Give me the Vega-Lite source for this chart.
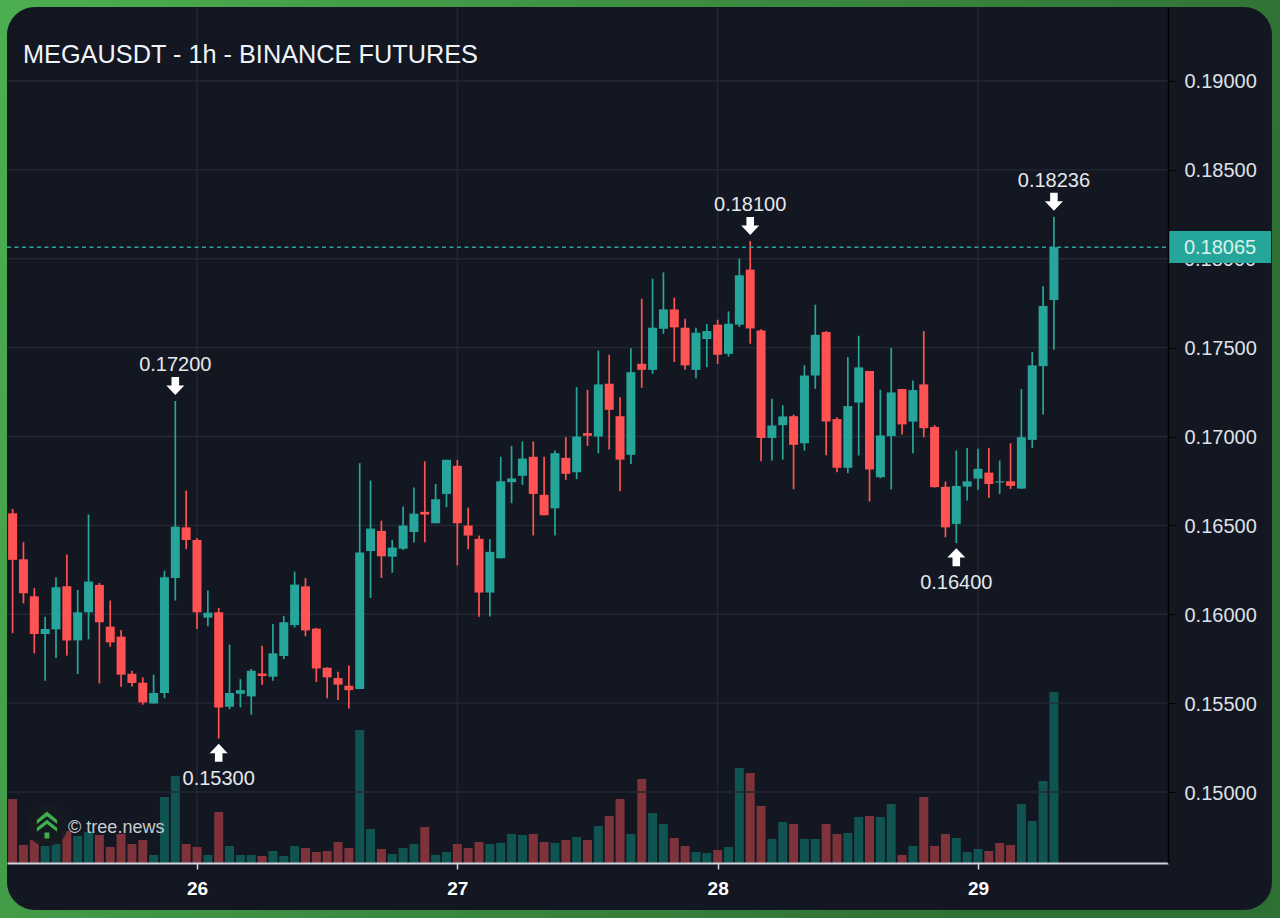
{
  "$schema": "https://vega.github.io/schema/vega-lite/v6.json",
  "width": 1265,
  "height": 903,
  "autosize": {"type": "none"},
  "padding": {"left": 7, "top": 7, "right": 8, "bottom": 8},
  "background": "#3d8f42",
  "view": {"fill": null, "stroke": null},
  "config": {"font": "Liberation Sans"},
  "title": {"text": "MEGAUSDT - 1h - BINANCE FUTURES", "anchor": "start", "frame": "group", "dx": 16, "baseline": "top", "offset": -68, "fontSize": 25.3, "fontWeight": "normal", "color": "#f0f3fa"},
  "datasets": {
    "candles": [
      {"t":"2025-10-25T07:00:00Z","o":0.16568,"h":0.16593,"l":0.15893,"c":0.16306,"dir":"down"},
      {"t":"2025-10-25T08:00:00Z","o":0.16309,"h":0.16405,"l":0.16061,"c":0.16118,"dir":"down"},
      {"t":"2025-10-25T09:00:00Z","o":0.16101,"h":0.16148,"l":0.15780,"c":0.15889,"dir":"down"},
      {"t":"2025-10-25T10:00:00Z","o":0.15889,"h":0.15986,"l":0.15626,"c":0.15917,"dir":"up"},
      {"t":"2025-10-25T11:00:00Z","o":0.15915,"h":0.16208,"l":0.15754,"c":0.16152,"dir":"up"},
      {"t":"2025-10-25T12:00:00Z","o":0.16157,"h":0.16336,"l":0.15767,"c":0.15853,"dir":"down"},
      {"t":"2025-10-25T13:00:00Z","o":0.15853,"h":0.16137,"l":0.15664,"c":0.16011,"dir":"up"},
      {"t":"2025-10-25T14:00:00Z","o":0.16011,"h":0.16561,"l":0.15859,"c":0.16184,"dir":"up"},
      {"t":"2025-10-25T15:00:00Z","o":0.16165,"h":0.16176,"l":0.15611,"c":0.15955,"dir":"down"},
      {"t":"2025-10-25T16:00:00Z","o":0.15930,"h":0.16077,"l":0.15817,"c":0.15842,"dir":"down"},
      {"t":"2025-10-25T17:00:00Z","o":0.15874,"h":0.15911,"l":0.15592,"c":0.15660,"dir":"down"},
      {"t":"2025-10-25T18:00:00Z","o":0.15665,"h":0.15682,"l":0.15594,"c":0.15613,"dir":"down"},
      {"t":"2025-10-25T19:00:00Z","o":0.15615,"h":0.15645,"l":0.15491,"c":0.15504,"dir":"down"},
      {"t":"2025-10-25T20:00:00Z","o":0.15498,"h":0.15660,"l":0.15498,"c":0.15557,"dir":"up"},
      {"t":"2025-10-25T21:00:00Z","o":0.15557,"h":0.16245,"l":0.15527,"c":0.16208,"dir":"up"},
      {"t":"2025-10-25T22:00:00Z","o":0.16204,"h":0.17200,"l":0.16077,"c":0.16493,"dir":"up"},
      {"t":"2025-10-25T23:00:00Z","o":0.16489,"h":0.16696,"l":0.16366,"c":0.16418,"dir":"down"},
      {"t":"2025-10-26T00:00:00Z","o":0.16418,"h":0.16429,"l":0.15917,"c":0.16011,"dir":"down"},
      {"t":"2025-10-26T01:00:00Z","o":0.15981,"h":0.16133,"l":0.15932,"c":0.16009,"dir":"up"},
      {"t":"2025-10-26T02:00:00Z","o":0.16011,"h":0.16035,"l":0.15300,"c":0.15476,"dir":"down"},
      {"t":"2025-10-26T03:00:00Z","o":0.15480,"h":0.15829,"l":0.15466,"c":0.15557,"dir":"up"},
      {"t":"2025-10-26T04:00:00Z","o":0.15553,"h":0.15635,"l":0.15476,"c":0.15573,"dir":"up"},
      {"t":"2025-10-26T05:00:00Z","o":0.15538,"h":0.15692,"l":0.15435,"c":0.15682,"dir":"up"},
      {"t":"2025-10-26T06:00:00Z","o":0.15667,"h":0.15823,"l":0.15604,"c":0.15652,"dir":"down"},
      {"t":"2025-10-26T07:00:00Z","o":0.15649,"h":0.15945,"l":0.15626,"c":0.15780,"dir":"up"},
      {"t":"2025-10-26T08:00:00Z","o":0.15765,"h":0.15990,"l":0.15748,"c":0.15955,"dir":"up"},
      {"t":"2025-10-26T09:00:00Z","o":0.15939,"h":0.16240,"l":0.15926,"c":0.16167,"dir":"up"},
      {"t":"2025-10-26T10:00:00Z","o":0.16157,"h":0.16204,"l":0.15876,"c":0.15909,"dir":"down"},
      {"t":"2025-10-26T11:00:00Z","o":0.15919,"h":0.15923,"l":0.15619,"c":0.15695,"dir":"down"},
      {"t":"2025-10-26T12:00:00Z","o":0.15699,"h":0.15701,"l":0.15527,"c":0.15645,"dir":"down"},
      {"t":"2025-10-26T13:00:00Z","o":0.15641,"h":0.15677,"l":0.15517,"c":0.15604,"dir":"down"},
      {"t":"2025-10-26T14:00:00Z","o":0.15598,"h":0.15711,"l":0.15470,"c":0.15573,"dir":"down"},
      {"t":"2025-10-26T15:00:00Z","o":0.15579,"h":0.16850,"l":0.15579,"c":0.16347,"dir":"up"},
      {"t":"2025-10-26T16:00:00Z","o":0.16356,"h":0.16752,"l":0.16092,"c":0.16482,"dir":"up"},
      {"t":"2025-10-26T17:00:00Z","o":0.16469,"h":0.16527,"l":0.16204,"c":0.16326,"dir":"down"},
      {"t":"2025-10-26T18:00:00Z","o":0.16324,"h":0.16418,"l":0.16234,"c":0.16375,"dir":"up"},
      {"t":"2025-10-26T19:00:00Z","o":0.16369,"h":0.16606,"l":0.16362,"c":0.16499,"dir":"up"},
      {"t":"2025-10-26T20:00:00Z","o":0.16463,"h":0.16713,"l":0.16403,"c":0.16566,"dir":"up"},
      {"t":"2025-10-26T21:00:00Z","o":0.16576,"h":0.16861,"l":0.16405,"c":0.16561,"dir":"down"},
      {"t":"2025-10-26T22:00:00Z","o":0.16512,"h":0.16733,"l":0.16512,"c":0.16647,"dir":"up"},
      {"t":"2025-10-26T23:00:00Z","o":0.16677,"h":0.16869,"l":0.16602,"c":0.16869,"dir":"up"},
      {"t":"2025-10-27T00:00:00Z","o":0.16835,"h":0.16869,"l":0.16274,"c":0.16512,"dir":"down"},
      {"t":"2025-10-27T01:00:00Z","o":0.16499,"h":0.16600,"l":0.16366,"c":0.16443,"dir":"down"},
      {"t":"2025-10-27T02:00:00Z","o":0.16424,"h":0.16443,"l":0.15986,"c":0.16122,"dir":"down"},
      {"t":"2025-10-27T03:00:00Z","o":0.16122,"h":0.16422,"l":0.15988,"c":0.16351,"dir":"up"},
      {"t":"2025-10-27T04:00:00Z","o":0.16315,"h":0.16886,"l":0.16315,"c":0.16748,"dir":"up"},
      {"t":"2025-10-27T05:00:00Z","o":0.16743,"h":0.16947,"l":0.16625,"c":0.16764,"dir":"up"},
      {"t":"2025-10-27T06:00:00Z","o":0.16779,"h":0.16972,"l":0.16728,"c":0.16876,"dir":"up"},
      {"t":"2025-10-27T07:00:00Z","o":0.16886,"h":0.16972,"l":0.16443,"c":0.16677,"dir":"down"},
      {"t":"2025-10-27T08:00:00Z","o":0.16672,"h":0.16886,"l":0.16557,"c":0.16557,"dir":"down"},
      {"t":"2025-10-27T09:00:00Z","o":0.16596,"h":0.16921,"l":0.16443,"c":0.16906,"dir":"up"},
      {"t":"2025-10-27T10:00:00Z","o":0.16880,"h":0.16996,"l":0.16756,"c":0.16790,"dir":"down"},
      {"t":"2025-10-27T11:00:00Z","o":0.16799,"h":0.17278,"l":0.16760,"c":0.17000,"dir":"up"},
      {"t":"2025-10-27T12:00:00Z","o":0.17019,"h":0.17263,"l":0.16947,"c":0.17004,"dir":"down"},
      {"t":"2025-10-27T13:00:00Z","o":0.17000,"h":0.17484,"l":0.16906,"c":0.17293,"dir":"up"},
      {"t":"2025-10-27T14:00:00Z","o":0.17297,"h":0.17460,"l":0.16927,"c":0.17150,"dir":"down"},
      {"t":"2025-10-27T15:00:00Z","o":0.17114,"h":0.17221,"l":0.16692,"c":0.16870,"dir":"down"},
      {"t":"2025-10-27T16:00:00Z","o":0.16897,"h":0.17496,"l":0.16846,"c":0.17362,"dir":"up"},
      {"t":"2025-10-27T17:00:00Z","o":0.17409,"h":0.17775,"l":0.17274,"c":0.17375,"dir":"down"},
      {"t":"2025-10-27T18:00:00Z","o":0.17375,"h":0.17888,"l":0.17353,"c":0.17612,"dir":"up"},
      {"t":"2025-10-27T19:00:00Z","o":0.17606,"h":0.17923,"l":0.17578,"c":0.17715,"dir":"up"},
      {"t":"2025-10-27T20:00:00Z","o":0.17715,"h":0.17781,"l":0.17419,"c":0.17614,"dir":"down"},
      {"t":"2025-10-27T21:00:00Z","o":0.17612,"h":0.17663,"l":0.17375,"c":0.17400,"dir":"down"},
      {"t":"2025-10-27T22:00:00Z","o":0.17375,"h":0.17612,"l":0.17328,"c":0.17584,"dir":"up"},
      {"t":"2025-10-27T23:00:00Z","o":0.17548,"h":0.17634,"l":0.17390,"c":0.17593,"dir":"up"},
      {"t":"2025-10-28T00:00:00Z","o":0.17629,"h":0.17657,"l":0.17409,"c":0.17460,"dir":"down"},
      {"t":"2025-10-28T01:00:00Z","o":0.17465,"h":0.17704,"l":0.17450,"c":0.17634,"dir":"up"},
      {"t":"2025-10-28T02:00:00Z","o":0.17629,"h":0.18000,"l":0.17616,"c":0.17907,"dir":"up"},
      {"t":"2025-10-28T03:00:00Z","o":0.17939,"h":0.18100,"l":0.17522,"c":0.17608,"dir":"down"},
      {"t":"2025-10-28T04:00:00Z","o":0.17597,"h":0.17604,"l":0.16861,"c":0.16992,"dir":"down"},
      {"t":"2025-10-28T05:00:00Z","o":0.16992,"h":0.17212,"l":0.16865,"c":0.17062,"dir":"up"},
      {"t":"2025-10-28T06:00:00Z","o":0.17064,"h":0.17175,"l":0.16870,"c":0.17113,"dir":"up"},
      {"t":"2025-10-28T07:00:00Z","o":0.17114,"h":0.17124,"l":0.16703,"c":0.16953,"dir":"down"},
      {"t":"2025-10-28T08:00:00Z","o":0.16962,"h":0.17400,"l":0.16921,"c":0.17343,"dir":"up"},
      {"t":"2025-10-28T09:00:00Z","o":0.17343,"h":0.17741,"l":0.17268,"c":0.17572,"dir":"up"},
      {"t":"2025-10-28T10:00:00Z","o":0.17588,"h":0.17593,"l":0.16895,"c":0.17084,"dir":"down"},
      {"t":"2025-10-28T11:00:00Z","o":0.17098,"h":0.17109,"l":0.16799,"c":0.16824,"dir":"down"},
      {"t":"2025-10-28T12:00:00Z","o":0.16824,"h":0.17447,"l":0.16794,"c":0.17171,"dir":"up"},
      {"t":"2025-10-28T13:00:00Z","o":0.17191,"h":0.17567,"l":0.16893,"c":0.17389,"dir":"up"},
      {"t":"2025-10-28T14:00:00Z","o":0.17368,"h":0.17368,"l":0.16634,"c":0.16814,"dir":"down"},
      {"t":"2025-10-28T15:00:00Z","o":0.16771,"h":0.17263,"l":0.16765,"c":0.17006,"dir":"up"},
      {"t":"2025-10-28T16:00:00Z","o":0.17002,"h":0.17499,"l":0.16702,"c":0.17248,"dir":"up"},
      {"t":"2025-10-28T17:00:00Z","o":0.17267,"h":0.17267,"l":0.17011,"c":0.17068,"dir":"down"},
      {"t":"2025-10-28T18:00:00Z","o":0.17084,"h":0.17315,"l":0.16906,"c":0.17261,"dir":"up"},
      {"t":"2025-10-28T19:00:00Z","o":0.17293,"h":0.17593,"l":0.16996,"c":0.17047,"dir":"down"},
      {"t":"2025-10-28T20:00:00Z","o":0.17054,"h":0.17064,"l":0.16713,"c":0.16715,"dir":"down"},
      {"t":"2025-10-28T21:00:00Z","o":0.16717,"h":0.16747,"l":0.16433,"c":0.16489,"dir":"down"},
      {"t":"2025-10-28T22:00:00Z","o":0.16508,"h":0.16921,"l":0.16400,"c":0.16722,"dir":"up"},
      {"t":"2025-10-28T23:00:00Z","o":0.16718,"h":0.16936,"l":0.16640,"c":0.16748,"dir":"up"},
      {"t":"2025-10-29T00:00:00Z","o":0.16763,"h":0.16931,"l":0.16700,"c":0.16818,"dir":"up"},
      {"t":"2025-10-29T01:00:00Z","o":0.16797,"h":0.16936,"l":0.16655,"c":0.16733,"dir":"down"},
      {"t":"2025-10-29T02:00:00Z","o":0.16741,"h":0.16865,"l":0.16677,"c":0.16748,"dir":"up"},
      {"t":"2025-10-29T03:00:00Z","o":0.16748,"h":0.16962,"l":0.16705,"c":0.16722,"dir":"down"},
      {"t":"2025-10-29T04:00:00Z","o":0.16707,"h":0.17267,"l":0.16705,"c":0.16996,"dir":"up"},
      {"t":"2025-10-29T05:00:00Z","o":0.16981,"h":0.17475,"l":0.16936,"c":0.17400,"dir":"up"},
      {"t":"2025-10-29T06:00:00Z","o":0.17396,"h":0.17845,"l":0.17124,"c":0.17734,"dir":"up"},
      {"t":"2025-10-29T07:00:00Z","o":0.17768,"h":0.18236,"l":0.17488,"c":0.18065,"dir":"up"}
    ],
    "volume": [
      {"t":"2025-10-25T07:00:00Z","v":64,"dir":"down"},{"t":"2025-10-25T08:00:00Z","v":18,"dir":"down"},{"t":"2025-10-25T09:00:00Z","v":23,"dir":"down"},{"t":"2025-10-25T10:00:00Z","v":17,"dir":"up"},
      {"t":"2025-10-25T11:00:00Z","v":19,"dir":"up"},{"t":"2025-10-25T12:00:00Z","v":32,"dir":"down"},{"t":"2025-10-25T13:00:00Z","v":27,"dir":"up"},{"t":"2025-10-25T14:00:00Z","v":31,"dir":"up"},
      {"t":"2025-10-25T15:00:00Z","v":28,"dir":"down"},{"t":"2025-10-25T16:00:00Z","v":16,"dir":"down"},{"t":"2025-10-25T17:00:00Z","v":29,"dir":"down"},{"t":"2025-10-25T18:00:00Z","v":19,"dir":"down"},
      {"t":"2025-10-25T19:00:00Z","v":23,"dir":"down"},{"t":"2025-10-25T20:00:00Z","v":8,"dir":"up"},{"t":"2025-10-25T21:00:00Z","v":66,"dir":"up"},{"t":"2025-10-25T22:00:00Z","v":87,"dir":"up"},
      {"t":"2025-10-25T23:00:00Z","v":19,"dir":"down"},{"t":"2025-10-26T00:00:00Z","v":16,"dir":"down"},{"t":"2025-10-26T01:00:00Z","v":8,"dir":"up"},{"t":"2025-10-26T02:00:00Z","v":51,"dir":"down"},
      {"t":"2025-10-26T03:00:00Z","v":17,"dir":"up"},{"t":"2025-10-26T04:00:00Z","v":8,"dir":"up"},{"t":"2025-10-26T05:00:00Z","v":8,"dir":"up"},{"t":"2025-10-26T06:00:00Z","v":7,"dir":"down"},
      {"t":"2025-10-26T07:00:00Z","v":12,"dir":"up"},{"t":"2025-10-26T08:00:00Z","v":7,"dir":"up"},{"t":"2025-10-26T09:00:00Z","v":17,"dir":"up"},{"t":"2025-10-26T10:00:00Z","v":15,"dir":"down"},
      {"t":"2025-10-26T11:00:00Z","v":11,"dir":"down"},{"t":"2025-10-26T12:00:00Z","v":12,"dir":"down"},{"t":"2025-10-26T13:00:00Z","v":21,"dir":"down"},{"t":"2025-10-26T14:00:00Z","v":15,"dir":"down"},
      {"t":"2025-10-26T15:00:00Z","v":133,"dir":"up"},{"t":"2025-10-26T16:00:00Z","v":34,"dir":"up"},{"t":"2025-10-26T17:00:00Z","v":14,"dir":"down"},{"t":"2025-10-26T18:00:00Z","v":9,"dir":"up"},
      {"t":"2025-10-26T19:00:00Z","v":15,"dir":"up"},{"t":"2025-10-26T20:00:00Z","v":19,"dir":"up"},{"t":"2025-10-26T21:00:00Z","v":36,"dir":"down"},{"t":"2025-10-26T22:00:00Z","v":8,"dir":"up"},
      {"t":"2025-10-26T23:00:00Z","v":11,"dir":"up"},{"t":"2025-10-27T00:00:00Z","v":19,"dir":"down"},{"t":"2025-10-27T01:00:00Z","v":15,"dir":"down"},{"t":"2025-10-27T02:00:00Z","v":21,"dir":"down"},
      {"t":"2025-10-27T03:00:00Z","v":19,"dir":"up"},{"t":"2025-10-27T04:00:00Z","v":20,"dir":"up"},{"t":"2025-10-27T05:00:00Z","v":29,"dir":"up"},{"t":"2025-10-27T06:00:00Z","v":28,"dir":"up"},
      {"t":"2025-10-27T07:00:00Z","v":29,"dir":"down"},{"t":"2025-10-27T08:00:00Z","v":21,"dir":"down"},{"t":"2025-10-27T09:00:00Z","v":20,"dir":"up"},{"t":"2025-10-27T10:00:00Z","v":23,"dir":"down"},
      {"t":"2025-10-27T11:00:00Z","v":26,"dir":"up"},{"t":"2025-10-27T12:00:00Z","v":23,"dir":"down"},{"t":"2025-10-27T13:00:00Z","v":37,"dir":"up"},{"t":"2025-10-27T14:00:00Z","v":47,"dir":"down"},
      {"t":"2025-10-27T15:00:00Z","v":64,"dir":"down"},{"t":"2025-10-27T16:00:00Z","v":29,"dir":"up"},{"t":"2025-10-27T17:00:00Z","v":84,"dir":"down"},{"t":"2025-10-27T18:00:00Z","v":50,"dir":"up"},
      {"t":"2025-10-27T19:00:00Z","v":39,"dir":"up"},{"t":"2025-10-27T20:00:00Z","v":25,"dir":"down"},{"t":"2025-10-27T21:00:00Z","v":17,"dir":"down"},{"t":"2025-10-27T22:00:00Z","v":11,"dir":"up"},
      {"t":"2025-10-27T23:00:00Z","v":10,"dir":"up"},{"t":"2025-10-28T00:00:00Z","v":13,"dir":"down"},{"t":"2025-10-28T01:00:00Z","v":16,"dir":"up"},{"t":"2025-10-28T02:00:00Z","v":95,"dir":"up"},
      {"t":"2025-10-28T03:00:00Z","v":90,"dir":"down"},{"t":"2025-10-28T04:00:00Z","v":57,"dir":"down"},{"t":"2025-10-28T05:00:00Z","v":24,"dir":"up"},{"t":"2025-10-28T06:00:00Z","v":41,"dir":"up"},
      {"t":"2025-10-28T07:00:00Z","v":39,"dir":"down"},{"t":"2025-10-28T08:00:00Z","v":24,"dir":"up"},{"t":"2025-10-28T09:00:00Z","v":24,"dir":"up"},{"t":"2025-10-28T10:00:00Z","v":39,"dir":"down"},
      {"t":"2025-10-28T11:00:00Z","v":29,"dir":"down"},{"t":"2025-10-28T12:00:00Z","v":30,"dir":"up"},{"t":"2025-10-28T13:00:00Z","v":46,"dir":"up"},{"t":"2025-10-28T14:00:00Z","v":47,"dir":"down"},
      {"t":"2025-10-28T15:00:00Z","v":46,"dir":"up"},{"t":"2025-10-28T16:00:00Z","v":59,"dir":"up"},{"t":"2025-10-28T17:00:00Z","v":8,"dir":"down"},{"t":"2025-10-28T18:00:00Z","v":17,"dir":"up"},
      {"t":"2025-10-28T19:00:00Z","v":66,"dir":"down"},{"t":"2025-10-28T20:00:00Z","v":17,"dir":"down"},{"t":"2025-10-28T21:00:00Z","v":29,"dir":"down"},{"t":"2025-10-28T22:00:00Z","v":25,"dir":"up"},
      {"t":"2025-10-28T23:00:00Z","v":11,"dir":"up"},{"t":"2025-10-29T00:00:00Z","v":14,"dir":"up"},{"t":"2025-10-29T01:00:00Z","v":12,"dir":"down"},{"t":"2025-10-29T02:00:00Z","v":20,"dir":"down"},
      {"t":"2025-10-29T03:00:00Z","v":18,"dir":"down"},{"t":"2025-10-29T04:00:00Z","v":59,"dir":"up"},{"t":"2025-10-29T05:00:00Z","v":42,"dir":"up"},{"t":"2025-10-29T06:00:00Z","v":82,"dir":"up"},
      {"t":"2025-10-29T07:00:00Z","v":171,"dir":"up"}
    ]
  },
  "layer": [
    {
      "encoding": {
        "y": {"type": "quantitative", "title": null, "axis": null, "scale": {"domain": [0, 856], "range": [856, 0], "nice": false}}
      },
      "layer": [
        {
          "data": {"values": [{"part": "frame"}]},
          "mark": {"type": "rect", "color": {"gradient": "linear", "x1": 0, "y1": 0, "x2": 1, "y2": 0.3, "stops": [{"offset": 0, "color": "#4caf50"}, {"offset": 0.5, "color": "#3c8c41"}, {"offset": 1, "color": "#2e6f33"}]}},
          "encoding": {
            "x": {
              "datum": {"year": 2025, "month": 10, "date": 25, "hours": 5, "minutes": 50, "utc": true},
              "type": "temporal",
              "title": null,
              "scale": {
                "type": "utc",
                "nice": false,
                "padding": 0,
                "domain": [
                  {"year": 2025, "month": 10, "date": 25, "hours": 6, "minutes": 29, "utc": true},
                  {"year": 2025, "month": 10, "date": 29, "hours": 17, "minutes": 31, "utc": true}
                ],
                "range": [0, 1161]
              },
              "axis": {
                "orient": "bottom",
                "offset": -47,
                "title": null,
                "zindex": 1,
                "grid": false,
                "tickCount": {"interval": "day", "step": 1},
                "labelExpr": "utcFormat(datum.value, '%d')",
                "labelFontSize": 19,
                "labelFontWeight": "bold",
                "labelColor": "#ffffff",
                "labelPadding": 10,
                "labelFlush": false,
                "tickColor": "#d1d4dc",
                "tickSize": 6,
                "tickWidth": 1.5,
                "domainColor": "#d1d4dc",
                "domainWidth": 2
              }
            },
            "x2": {"datum": {"year": 2025, "month": 10, "date": 30, "hours": 3, "minutes": 50, "utc": true}},
            "y": {"datum": 863},
            "y2": {"datum": -55}
          }
        },
        {
          "data": {"values": [{"part": "panel"}]},
          "mark": {"type": "rect", "color": "#131722", "cornerRadius": 28},
          "encoding": {
            "x": {"datum": {"year": 2025, "month": 10, "date": 25, "hours": 6, "minutes": 29, "utc": true}, "type": "temporal"},
            "x2": {"datum": {"year": 2025, "month": 10, "date": 30, "hours": 3, "minutes": 6, "utc": true}},
            "y": {"datum": 856},
            "y2": {"datum": -47}
          }
        },
        {
          "data": {"values": [{"day": "2025-10-26T00:00:00Z"}, {"day": "2025-10-27T00:00:00Z"}, {"day": "2025-10-28T00:00:00Z"}, {"day": "2025-10-29T00:00:00Z"}]},
          "mark": {"type": "rule", "color": "#252934", "strokeWidth": 1.3},
          "encoding": {
            "x": {"field": "day", "type": "temporal"},
            "y": {"datum": 0},
            "y2": {"datum": 856}
          }
        },
        {
          "data": {"name": "volume"},
          "mark": {"type": "bar", "width": 9},
          "encoding": {
            "x": {"field": "t", "type": "temporal"},
            "y": {"field": "v"},
            "color": {"field": "dir", "type": "nominal", "legend": null, "scale": {"domain": ["up", "down"], "range": ["#0f5451", "#7e323a"]}}
          }
        }
      ]
    },
    {
      "encoding": {
        "y": {"type": "quantitative", "title": null, "scale": {"domain": [0.146006, 0.194163], "range": [856, 0], "nice": false, "zero": false}}
      },
      "layer": [
        {
          "data": {"values": [{"level": 0.15}, {"level": 0.155}, {"level": 0.16}, {"level": 0.165}, {"level": 0.17}, {"level": 0.175}, {"level": 0.18}, {"level": 0.185}, {"level": 0.19}]},
          "mark": {"type": "rule", "color": "#252934", "strokeWidth": 1.3},
          "encoding": {
            "x": {"datum": {"year": 2025, "month": 10, "date": 25, "hours": 6, "minutes": 29, "utc": true}, "type": "temporal"},
            "x2": {"datum": {"year": 2025, "month": 10, "date": 29, "hours": 17, "minutes": 31, "utc": true}},
            "y": {
              "field": "level",
              "axis": {
                "orient": "right",
                "offset": -104,
                "title": null,
                "zindex": 1,
                "values": [0.15, 0.155, 0.16, 0.165, 0.17, 0.175, 0.185, 0.19],
                "format": ".5f",
                "grid": false,
                "labelFontSize": 20,
                "labelColor": "#dfe1e6",
                "labelPadding": 9,
                "labelOffset": 1,
                "tickColor": "#000000",
                "tickSize": 7,
                "domainColor": "#000000",
                "domainWidth": 1.5
              }
            }
          }
        },
        {
          "data": {"name": "candles"},
          "mark": {"type": "rule", "strokeWidth": 1.7},
          "encoding": {
            "x": {"field": "t", "type": "temporal"},
            "y": {"field": "l"},
            "y2": {"field": "h"},
            "color": {"field": "dir", "type": "nominal", "legend": null, "scale": {"domain": ["up", "down"], "range": ["#26a69a", "#ff5252"]}}
          }
        },
        {
          "data": {"name": "candles"},
          "mark": {"type": "bar", "width": 9},
          "encoding": {
            "x": {"field": "t", "type": "temporal"},
            "y": {"field": "o"},
            "y2": {"field": "c"},
            "color": {"field": "dir", "type": "nominal", "legend": null}
          }
        },
        {
          "data": {"values": [{"price": 0.18}]},
          "mark": {"type": "text", "align": "left", "baseline": "middle", "fontSize": 20, "dy": 1, "color": "#dfe1e6"},
          "encoding": {
            "x": {"datum": {"year": 2025, "month": 10, "date": 29, "hours": 18, "minutes": 59, "utc": true}, "type": "temporal"},
            "y": {"field": "price"},
            "text": {"field": "price", "format": ".5f"}
          }
        },
        {
          "data": {"values": [{"price": 0.18065}]},
          "mark": {"type": "rule", "color": "#26a69a", "strokeWidth": 1.5, "strokeDash": [4, 3.5]},
          "encoding": {
            "x": {"datum": {"year": 2025, "month": 10, "date": 25, "hours": 6, "minutes": 29, "utc": true}, "type": "temporal"},
            "x2": {"datum": {"year": 2025, "month": 10, "date": 29, "hours": 18, "minutes": 10, "utc": true}},
            "y": {"field": "price"}
          }
        },
        {
          "data": {"values": [{"price": 0.18065}]},
          "mark": {"type": "rect", "color": "#26a69a"},
          "encoding": {
            "x": {"datum": {"year": 2025, "month": 10, "date": 29, "hours": 17, "minutes": 31, "utc": true}, "type": "temporal"},
            "x2": {"datum": {"year": 2025, "month": 10, "date": 30, "hours": 3, "minutes": 1, "utc": true}},
            "y": {"datum": 0.18156},
            "y2": {"datum": 0.17976}
          }
        },
        {
          "data": {"values": [{"price": 0.18065}]},
          "mark": {"type": "text", "align": "left", "baseline": "middle", "fontSize": 20, "dy": 1, "color": "#d8f2ee"},
          "encoding": {
            "x": {"datum": {"year": 2025, "month": 10, "date": 29, "hours": 18, "minutes": 59, "utc": true}, "type": "temporal"},
            "y": {"field": "price"},
            "text": {"field": "price", "format": ".5f"}
          }
        },
        {
          "data": {"values": [{"t": "2025-10-25T22:00:00Z", "price": 0.172}, {"t": "2025-10-28T03:00:00Z", "price": 0.181}, {"t": "2025-10-29T07:00:00Z", "price": 0.18236}]},
          "encoding": {"x": {"field": "t", "type": "temporal"}, "y": {"field": "price"}},
          "layer": [
            {"mark": {"type": "point", "filled": true, "opacity": 1, "color": "#ffffff", "yOffset": -15, "shape": "M-0.42,-1 H0.42 V-0.05 H1 L0,1 L-1,-0.05 H-0.42 Z", "size": 324}},
            {
              "mark": {"type": "text", "dy": -36, "fontSize": 20, "color": "#e6e8ec"},
              "encoding": {"text": {"field": "price", "format": ".5f"}}
            }
          ]
        },
        {
          "data": {"values": [{"t": "2025-10-26T02:00:00Z", "price": 0.153}, {"t": "2025-10-28T22:00:00Z", "price": 0.164}]},
          "encoding": {"x": {"field": "t", "type": "temporal"}, "y": {"field": "price"}},
          "layer": [
            {"mark": {"type": "point", "filled": true, "opacity": 1, "color": "#ffffff", "yOffset": 14, "shape": "M-0.42,1 H0.42 V0.05 H1 L0,-1 L-1,0.05 H-0.42 Z", "size": 324}},
            {
              "mark": {"type": "text", "dy": 40, "fontSize": 20, "color": "#e6e8ec"},
              "encoding": {"text": {"field": "price", "format": ".5f"}}
            }
          ]
        },
        {
          "data": {"values": [{"brand": "tree.news"}]},
          "layer": [
            {
              "mark": {"type": "point", "shape": "circle", "filled": true, "opacity": 0.88, "color": "#161a20", "size": 1764},
              "encoding": {
                "x": {"datum": {"year": 2025, "month": 10, "date": 25, "hours": 10, "minutes": 10, "utc": true}, "type": "temporal"},
                "y": {"datum": 0.14814}
              }
            },
            {
              "mark": {"type": "point", "filled": true, "opacity": 1, "color": "#3fae4f", "size": 729, "shape": "M0,-1 L0.75,-0.38 L0.75,-0.08 L0,-0.66 L-0.75,-0.08 L-0.75,-0.38 Z M0,-0.4 L0.75,0.2 L0.75,0.5 L0,-0.08 L-0.75,0.5 L-0.75,0.2 Z M-0.18,0.55 H0.18 V1 H-0.18 Z"},
              "encoding": {
                "x": {"datum": {"year": 2025, "month": 10, "date": 25, "hours": 10, "minutes": 10, "utc": true}, "type": "temporal"},
                "y": {"datum": 0.14814}
              }
            },
            {
              "mark": {"type": "text", "align": "left", "baseline": "middle", "fontSize": 18, "dy": 1, "color": "#c9cbcf", "text": "© tree.news"},
              "encoding": {
                "x": {"datum": {"year": 2025, "month": 10, "date": 25, "hours": 12, "minutes": 7, "utc": true}, "type": "temporal"},
                "y": {"datum": 0.14803}
              }
            }
          ]
        }
      ]
    }
  ],
  "resolve": {"scale": {"y": "independent", "color": "independent"}}
}
